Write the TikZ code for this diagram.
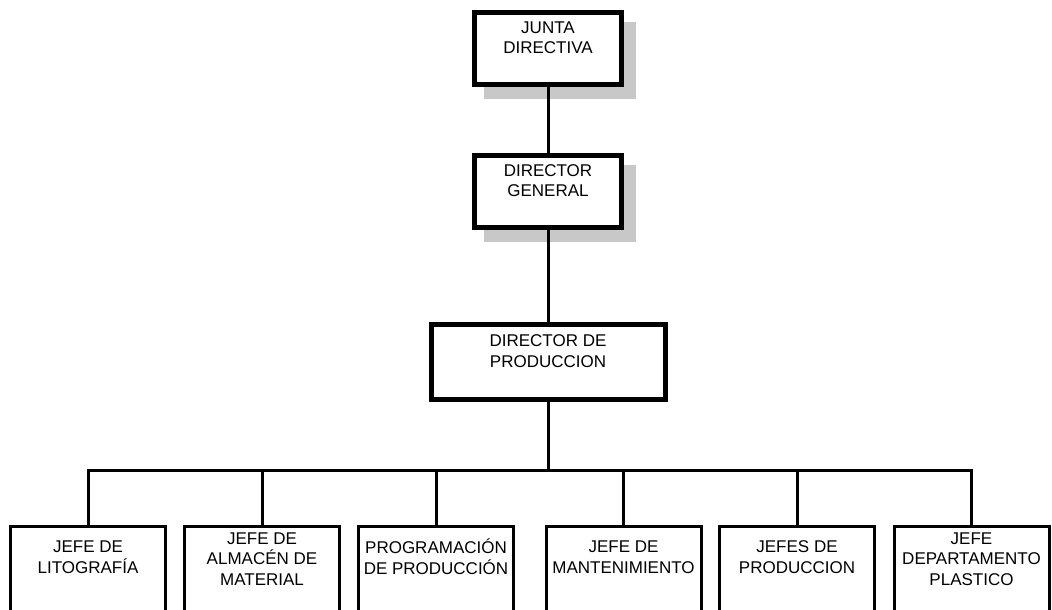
\documentclass[tikz,border=0pt]{standalone}
\usepackage{fontspec}
\setmainfont{Liberation Sans}
\usetikzlibrary{backgrounds}
\pgfdeclarelayer{shade}
\pgfsetlayers{background,shade,main}
\definecolor{shadegray}{RGB}{200,200,200}
\begin{document}
\begin{tikzpicture}[x=1pt,y=-1pt,
  box/.style={draw, fill=white, rectangle, inner sep=0pt},
  headbox/.style={box, line width=5pt, minimum width=147pt, minimum height=72pt},
  prodbox/.style={box, line width=5pt, minimum width=234pt, minimum height=75pt},
  unitbox/.style={box, line width=3pt, minimum width=155pt, minimum height=100pt},
  txt/.style={anchor=base, inner sep=0pt, align=center, font=\fontsize{17}{20.5}\selectfont},
  link/.style={line width=3pt},
  dropshade/.style={fill=shadegray}]
\useasboundingbox (0,0) rectangle (1052,610);
\begin{pgfonlayer}{background}
  \fill[white] (0,0) rectangle (1052,610);
\end{pgfonlayer}
\clip (0,0) rectangle (1052,610);

% boxes
\node[headbox] (jd) at (548,48.5) {};
\node[headbox] (dg) at (548,191) {};
\node[prodbox] (dp) at (548,362) {};
\node[unitbox] (u1) at (88,576.5) {};
\node[unitbox] (u2) at (262,576.5) {};
\node[unitbox] (u3) at (436,576.5) {};
\node[unitbox] (u4) at (623.5,576.5) {};
\node[unitbox] (u5) at (797,576.5) {};
\node[unitbox] (u6) at (971.5,576.5) {};

% drop shadows of the two top boxes
\begin{pgfonlayer}{shade}
  \fill[dropshade] ([shift={(12,12)}]jd.north west) rectangle ([shift={(12,12)}]jd.south east);
  \fill[dropshade] ([shift={(12,12)}]dg.north west) rectangle ([shift={(12,12)}]dg.south east);
\end{pgfonlayer}

% connectors
\coordinate (bus) at (548,470.5);
\draw[link] (jd) -- (dg);
\draw[link] (dg) -- (dp);
\foreach \u in {u1,u2,u3,u4,u5,u6}
  \draw[link] (dp.south) -- (bus) -| (\u.north);

% texts (base anchor = baseline of the last line)
\node[txt] (jdt) at ([yshift=-44pt]jd.north) {JUNTA\\DIRECTIVA};
\node[txt] (dgt) at ([yshift=-44pt]dg.north) {DIRECTOR\\GENERAL};
\node[txt] (dpt) at ([yshift=-45pt]dp.north) {DIRECTOR DE\\PRODUCCION};
\node[txt] (u1t) at ([yshift=-48pt]u1.north) {JEFE DE\\LITOGRAFÍA};
\node[txt] (u2t) at ([yshift=-60pt]u2.north) {JEFE DE\\ALMACÉN DE\\MATERIAL};
\node[txt] (u3t) at ([yshift=-49pt]u3.north) {PROGRAMACIÓN\\DE PRODUCCIÓN};
\node[txt] (u4t) at ([yshift=-48pt]u4.north) {JEFE DE\\MANTENIMIENTO};
\node[txt] (u5t) at ([yshift=-48pt]u5.north) {JEFES DE\\PRODUCCION};
\node[txt] (u6t) at ([yshift=-60pt]u6.north) {JEFE\\DEPARTAMENTO\\PLASTICO};
\end{tikzpicture}
\end{document}
